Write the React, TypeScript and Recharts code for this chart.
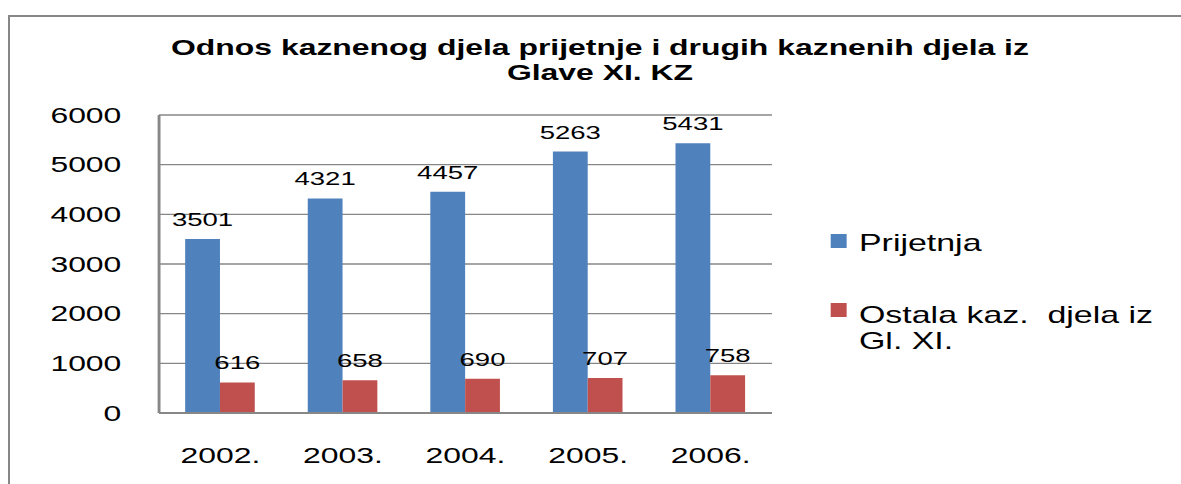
import React from 'react';
import { BarChart, Bar, XAxis, YAxis, CartesianGrid, Legend, LabelList } from 'recharts';

const years = ['2002.', '2003.', '2004.', '2005.', '2006.'];
const prijetnja = [3501, 4321, 4457, 5263, 5431];
const ostala = [616, 658, 690, 707, 758];
const yTicks = [0, 1000, 2000, 3000, 4000, 5000, 6000];
const seriesNames = ['Prijetnja', 'Ostala kaz. djela iz Gl. XI.'];
const legendLines = [['Prijetnja'], ['Ostala kaz.  djela iz', 'Gl. XI.']];
const titleLines = ['Odnos kaznenog djela prijetnje i drugih kaznenih djela iz', 'Glave XI. KZ'];
const colors = ['#4F81BD', '#C0504D'];

const data = years.map((y, i) => ({ year: y, prijetnja: prijetnja[i], ostala: ostala[i] }));

const S = 1.45;
const W = 808;
const H = 470;
const FONT = '"Liberation Sans", Arial, sans-serif';
const GRID = '#878787';

const renderLegend = () => (
  <div style={{ position: 'relative', width: 250, height: 150, fontFamily: FONT, fontSize: 23.4, color: '#000' }}>
    <div style={{ position: 'absolute', left: 5.5, top: 17, width: 11.7, height: 14, background: colors[0] }} />
    <div style={{ position: 'absolute', left: 25.5, top: 13, lineHeight: '26.5px', whiteSpace: 'pre' }}>
      {legendLines[0].map((l) => (
        <div key={l}>{l}</div>
      ))}
    </div>
    <div style={{ position: 'absolute', left: 5.5, top: 86, width: 11.7, height: 14, background: colors[1] }} />
    <div style={{ position: 'absolute', left: 25.5, top: 84.5, lineHeight: '26.5px', whiteSpace: 'pre' }}>
      {legendLines[1].map((l) => (
        <div key={l}>{l}</div>
      ))}
    </div>
  </div>
);

export default function App() {
  return (
    <div
      style={{
        position: 'fixed',
        left: 0,
        top: 0,
        width: 1181,
        height: 484,
        overflow: 'hidden',
        background: '#fff',
      }}
    >
      <div
        style={{
          position: 'absolute',
          left: 8,
          top: 15,
          width: 1400,
          height: 600,
          borderTop: `2px solid ${GRID}`,
          borderLeft: `2px solid ${GRID}`,
        }}
      >
        <div
          style={{
            position: 'absolute',
            left: 0,
            top: 0,
            width: W,
            height: H,
            transform: `scaleX(${S})`,
            transformOrigin: '0 0',
          }}
        >
          <div
            style={{
              position: 'absolute',
              left: 0,
              top: 18,
              width: 813.8,
              textAlign: 'center',
              fontFamily: FONT,
              fontWeight: 'bold',
              fontSize: 22,
              lineHeight: '25px',
              color: '#000',
              zIndex: 2,
            }}
          >
            {titleLines.map((t) => (
              <div key={t}>{t}</div>
            ))}
          </div>
          <BarChart
            width={W}
            height={H}
            data={data}
            margin={{ top: 98, right: 282.5, bottom: 14, left: 0 }}
            barGap={0}
            style={{ fontFamily: FONT }}
          >
            <CartesianGrid vertical={false} stroke={GRID} strokeWidth={1.3} />
            <XAxis
              dataKey="year"
              height={60}
              axisLine={{ stroke: GRID, strokeWidth: 2 }}
              tickLine={false}
              tickSize={0}
              tickMargin={34}
              tick={{ fill: '#000', fontSize: 22, fontFamily: FONT }}
              interval={0}
            />
            <YAxis
              width={102.8}
              domain={[0, 6000]}
              ticks={yTicks}
              axisLine={{ stroke: GRID, strokeWidth: 2 }}
              tickLine={false}
              tickSize={0}
              tickMargin={26}
              tick={{ fill: '#000', fontSize: 22, fontFamily: FONT }}
              interval={0}
            />
            <Legend
              layout="vertical"
              align="center"
              verticalAlign="middle"
              content={renderLegend}
              wrapperStyle={{ left: 560, top: 200, width: 250, height: 150 }}
            />
            <Bar dataKey="prijetnja" name={seriesNames[0]} fill={colors[0]} barSize={24} isAnimationActive={false}>
              <LabelList dataKey="prijetnja" position="top" offset={13} fill="#000" fontSize={19} fontFamily={FONT} />
            </Bar>
            <Bar dataKey="ostala" name={seriesNames[1]} fill={colors[1]} barSize={24} isAnimationActive={false}>
              <LabelList dataKey="ostala" position="top" offset={13} fill="#000" fontSize={19} fontFamily={FONT} />
            </Bar>
          </BarChart>
        </div>
      </div>
    </div>
  );
}
